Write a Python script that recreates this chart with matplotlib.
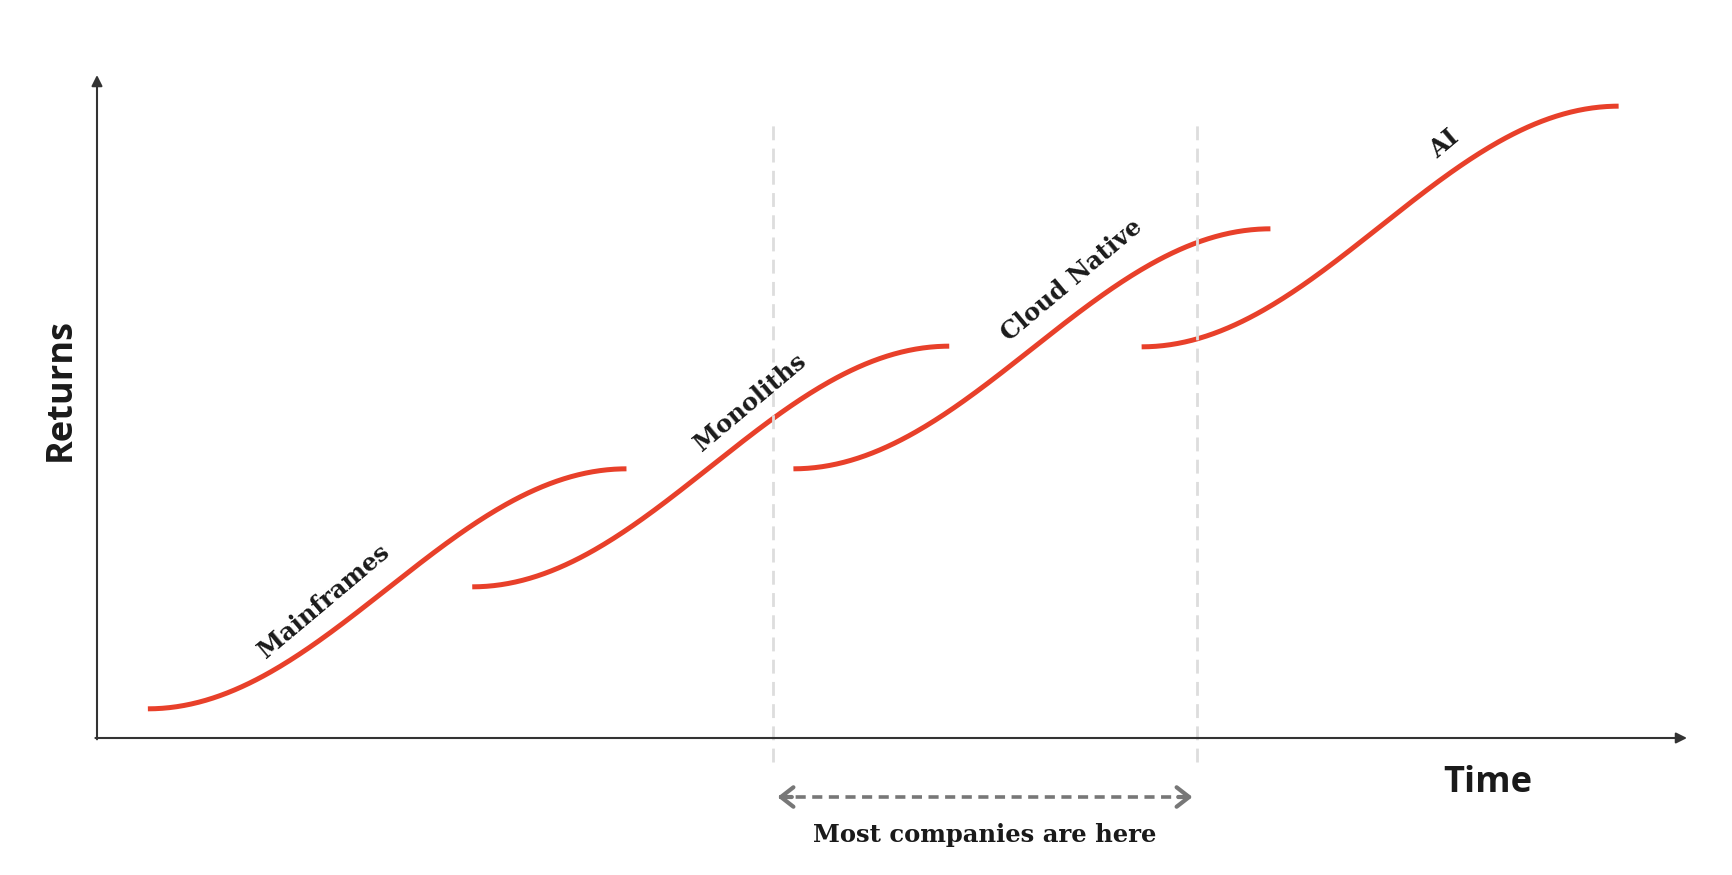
import numpy as np
import matplotlib.pyplot as plt

# S-curve eras: start/end in (time, returns) units, axis origin = (0, 0)
eras = ['Mainframes', 'Monoliths', 'Cloud Native', 'AI']
x_start = [3.2, 23.6, 43.8, 65.7]
x_end = [33.3, 53.6, 73.8, 95.7]
y_start = [4.4, 22.8, 40.6, 59.0]
y_end = [40.6, 59.1, 76.8, 95.3]

# window where most companies are
zone = [42.5, 69.2]

# label anchors and angles (data coords)
label_xy = [(14.3, 20.6), (41.1, 50.6), (61.3, 69.0), (84.7, 89.6)]
label_rot = 40

red = '#E8402A'
serif = 'DejaVu Serif'
sans = 'Open Sans'

fig = plt.figure(figsize=(17.32, 8.75), dpi=100)
ax = fig.add_axes([0, 0, 1, 1])
ax.axis('off')
# 15.9 px per time unit, 6.63 px per returns unit, origin at px (97, 738)
ax.set_xlim(-97 / 15.9, (1732 - 97) / 15.9)
ax.set_ylim(-(875 - 738) / 6.63, 738 / 6.63)

# axes with arrow heads
arrow_kw = dict(arrowstyle='-|>', color='#333333', lw=1.5,
                mutation_scale=16, shrinkA=0, shrinkB=0)
ax.annotate('', xy=(0, 100), xytext=(0, -0.2), arrowprops=arrow_kw)
ax.annotate('', xy=(100, 0), xytext=(-0.1, 0), arrowprops=arrow_kw)

ax.text(-2.3, 52.6, 'Returns', rotation=90, ha='center', va='center',
        fontsize=26, fontweight='bold', family=sans, color='#1a1a1a')
ax.text(87.5, -6.8, 'Time', ha='center', va='center',
        fontsize=26, fontweight='bold', family=sans, color='#1a1a1a')

# the curves
for i in range(len(eras)):
    t = np.linspace(0, 1, 200)
    ease = (1 - np.cos(np.pi * t)) / 2
    xs = x_start[i] + (x_end[i] - x_start[i]) * t
    ys = y_start[i] + (y_end[i] - y_start[i]) * ease
    ax.plot(xs, ys, color=red, lw=3.6, solid_capstyle='butt')
    lx, ly = label_xy[i]
    ax.text(lx, ly, eras[i], rotation=label_rot, rotation_mode='anchor',
            ha='center', va='center', fontsize=17.5, fontweight='bold',
            family=serif, color='#1a1a1a')

# vertical dashed markers
for zx in zone:
    ax.plot([zx, zx], [-3.6, 92.6], color='#dddddd', lw=2,
            ls=(0, (5, 3)), clip_on=False)

# double-headed dashed arrow
ay = -8.9
ax.plot([zone[0] + 0.4, zone[1] - 0.4], [ay, ay], color='#777777', lw=2.6,
        ls=(0, (2.8, 1.8)))
head_kw = dict(arrowstyle='->,head_length=0.45,head_width=0.35', color='#777777',
               lw=3, mutation_scale=20, shrinkA=0, shrinkB=0)
ax.annotate('', xy=(zone[0] + 0.3, ay), xytext=(zone[0] + 1.2, ay), arrowprops=head_kw)
ax.annotate('', xy=(zone[1] - 0.3, ay), xytext=(zone[1] - 1.2, ay), arrowprops=head_kw)

ax.text(sum(zone) / 2, -14.6, 'Most companies are here', ha='center', va='center',
        fontsize=17.5, fontweight='bold', family=serif, color='#1a1a1a')

plt.savefig('out.png', dpi=100)
